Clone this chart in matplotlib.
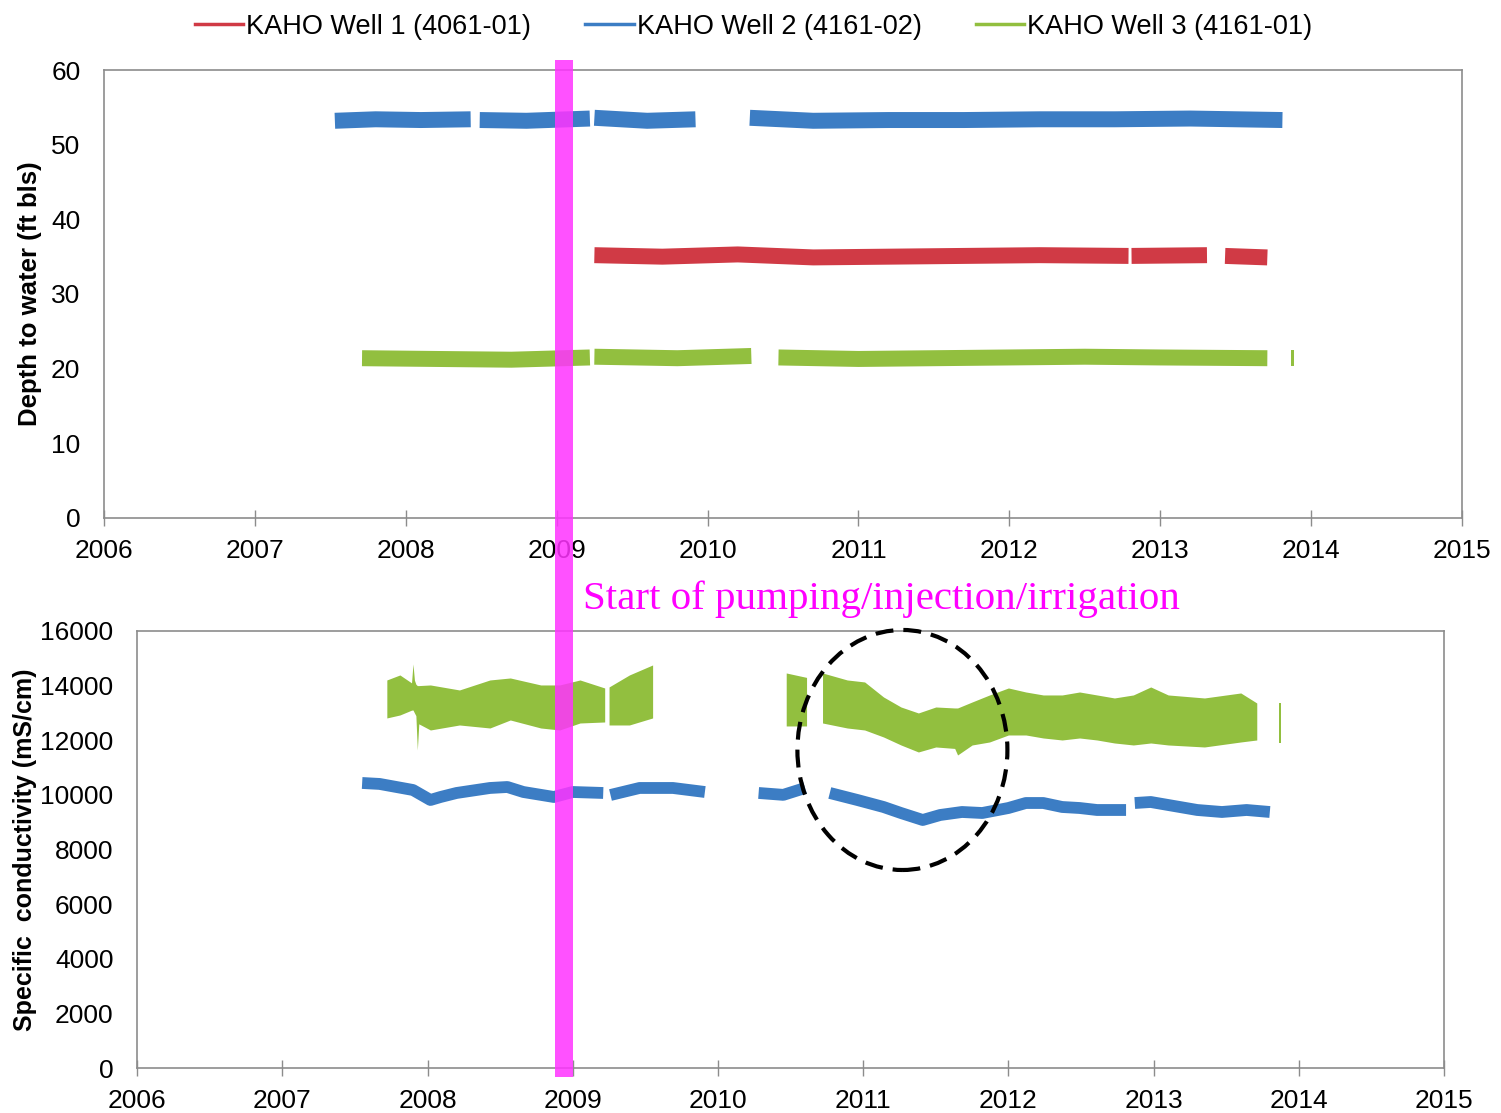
import matplotlib
matplotlib.use("Agg")
import matplotlib.pyplot as plt
from matplotlib.lines import Line2D
from matplotlib.patches import Ellipse, Rectangle

plt.rcParams['font.family'] = ['Liberation Sans', 'DejaVu Sans']

# ---- series labels / colours ----
labels = ["KAHO Well 1 (4061-01)", "KAHO Well 2 (4161-02)", "KAHO Well 3 (4161-01)"]
colors = ["#d03a45", "#3c7dc4", "#92bf3f"]

# ---- depth to water (ft bls), each well as list of (years, values) segments ----
well1_depth = [
    ([2009.25, 2009.7, 2010.2, 2010.7, 2011.2, 2011.7, 2012.2, 2012.79],
     [35.2, 35.0, 35.3, 34.9, 35.0, 35.1, 35.2, 35.1]),
    ([2012.81, 2013.31], [35.1, 35.2]),
    ([2013.43, 2013.71], [35.1, 34.9]),
]
well2_depth = [
    ([2007.53, 2007.8, 2008.1, 2008.43], [53.2, 53.4, 53.3, 53.4]),
    ([2008.49, 2008.8, 2009.22], [53.3, 53.2, 53.5]),
    ([2009.25, 2009.6, 2009.92], [53.6, 53.2, 53.4]),
    ([2010.28, 2010.7, 2011.2, 2011.7, 2012.2, 2012.7, 2013.2, 2013.81],
     [53.6, 53.2, 53.3, 53.3, 53.4, 53.4, 53.5, 53.3]),
]
well3_depth = [
    ([2007.71, 2008.2, 2008.7, 2009.22], [21.4, 21.3, 21.2, 21.5]),
    ([2009.25, 2009.8, 2010.29], [21.6, 21.4, 21.7]),
    ([2010.47, 2011.0, 2011.5, 2012.0, 2012.5, 2013.0, 2013.71],
     [21.5, 21.3, 21.4, 21.5, 21.6, 21.5, 21.4]),
    ([2013.865, 2013.885], [21.4, 21.4]),
]

# ---- specific conductivity (mS/cm) ----
# well 2: centre line per segment
well2_sc = [
    ([2007.55, 2007.67, 2007.90, 2008.02, 2008.09, 2008.20, 2008.43, 2008.55,
      2008.66, 2008.87, 2009.00, 2009.21],
     [10435, 10400, 10178, 9812, 9922, 10069, 10252, 10288, 10105, 9922, 10105, 10069]),
    ([2009.26, 2009.46, 2009.69, 2009.91], [9995, 10252, 10252, 10105]),
    ([2010.28, 2010.45, 2010.60], [10069, 10000, 10252]),
    ([2010.77, 2010.96, 2011.14, 2011.26, 2011.41, 2011.53, 2011.68, 2011.82,
      2012.00, 2012.12, 2012.24, 2012.37, 2012.49, 2012.61, 2012.81],
     [10069, 9812, 9556, 9336, 9080, 9263, 9373, 9336, 9519, 9702, 9702, 9556,
      9519, 9446, 9446]),
    ([2012.87, 2012.98, 2013.10, 2013.30, 2013.47, 2013.64, 2013.80],
     [9702, 9739, 9629, 9446, 9373, 9446, 9373]),
]
# well 3: low / high envelope per segment (daily swing)
well3_sc = [
    ([2007.72, 2007.81, 2007.89, 2007.90, 2007.91, 2007.92, 2007.93, 2007.94, 2008.02,
      2008.22, 2008.43, 2008.57, 2008.78, 2008.91, 2009.05, 2009.22],
     [12815, 12924, 13100, 13107, 13000, 12900, 11643, 12600, 12375,
      12558, 12448, 12741, 12448, 12375, 12631, 12668],
     [14206, 14389, 14100, 14792, 14200, 14050, 14000, 14000, 14023,
      13840, 14206, 14279, 14023, 14023, 14206, 13913]),
    ([2009.25, 2009.39, 2009.55], [12558, 12558, 12815], [13950, 14389, 14755]),
    ([2010.47, 2010.61], [12522, 12522], [14462, 14300]),
    ([2010.72, 2010.89, 2011.01, 2011.14, 2011.26, 2011.38, 2011.50, 2011.63,
      2011.65, 2011.75, 2011.87, 2012.00, 2012.12, 2012.24, 2012.37, 2012.49,
      2012.61, 2012.73, 2012.86, 2012.98, 2013.10, 2013.35, 2013.60, 2013.71],
     [12631, 12448, 12375, 12119, 11826, 11570, 11753, 11700, 11460, 11826,
      11936, 12192, 12192, 12082, 12009, 12082, 12009, 11899, 11826, 11899,
      11826, 11753, 11936, 12009],
     [14462, 14206, 14133, 13583, 13217, 12998, 13217, 13181, 13181, 13400,
      13657, 13913, 13766, 13657, 13657, 13766, 13657, 13547, 13657, 13950,
      13657, 13547, 13730, 13364]),
    ([2013.865, 2013.88], [11900, 11900], [13364, 13364]),
]

years = list(range(2006, 2016))
depth_ticks = list(range(0, 61, 10))
sc_ticks = list(range(0, 16001, 2000))

fig = plt.figure(figsize=(15.01, 11.13), dpi=100)
ax1 = fig.add_axes([0.0693, 0.5346, 0.9047, 0.4025])
ax2 = fig.add_axes([0.0913, 0.0404, 0.8708, 0.3927])


def style(ax):
    for s in ax.spines.values():
        s.set_color("#8c8c8c")
        s.set_linewidth(1.2)
    ax.set_xticks(years)
    ax.set_xlim(2006, 2015)
    ax.tick_params(axis="x", direction="inout", length=12, width=1, color="#8c8c8c",
                   pad=9, labelsize=19)
    ax.tick_params(axis="y", length=0, pad=17, labelsize=19)


# top panel: depth to water
for segs, c in zip([well1_depth, well2_depth, well3_depth], colors):
    for xs, ys in segs:
        ax1.plot(xs, ys, color=c, lw=11.5, solid_capstyle="butt", solid_joinstyle="round")
ax1.set_ylim(0, 60)
ax1.set_yticks(depth_ticks)
style(ax1)
ax1.set_ylabel("Depth to water (ft bls)", fontsize=18.5, fontweight="bold")
ax1.yaxis.set_label_coords(-0.046, 0.5)

# bottom panel: specific conductivity
for xs, lo, hi in well3_sc:
    ax2.fill_between(xs, lo, hi, color=colors[2], lw=0)
for xs, ys in well2_sc:
    ax2.plot(xs, ys, color=colors[1], lw=8.5, solid_capstyle="butt", solid_joinstyle="round")
ax2.set_ylim(0, 16000)
ax2.set_yticks(sc_ticks)
style(ax2)
ax2.set_ylabel("Specific  conductivity (mS/cm)", fontsize=18, fontweight="bold")
ax2.yaxis.set_label_coords(-0.0765, 0.5)

# dashed circle around the 2011 dip
ax2.add_patch(Ellipse((2011.27, 11643), 1.446, 8787, fill=False, ec="black", lw=3,
                      ls=(0, (4.3, 2.4)), clip_on=False, zorder=5))

# magenta marker for start of pumping
fig.patches.append(Rectangle((0.3698, 0.0323), 0.012, 0.9137, transform=fig.transFigure,
                             color="#ff33ff", alpha=0.85, lw=0, zorder=3))
fig.text(583 / 1501, 1 - 599 / 1113, "Start of pumping/injection/irrigation",
         color="#ff00ff", fontsize=29.5, family="Liberation Serif", va="center", ha="left")

# legend
handles = [Line2D([], [], color=c, lw=2.5) for c in colors]
fig.legend(handles, labels, loc="upper center", bbox_to_anchor=(0.502, 1.0), ncol=3,
           frameon=False, fontsize=19.5, handlelength=1.8, handletextpad=0.1,
           columnspacing=2.0, borderaxespad=0.1)

fig.savefig("out.png", dpi=100)
